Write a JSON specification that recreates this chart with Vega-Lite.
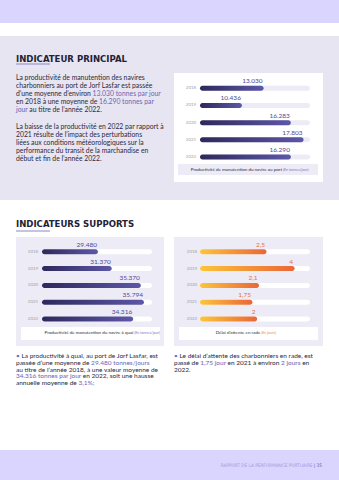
{
  "$schema": "https://vega.github.io/schema/vega-lite/v6.json",
  "background": "#ffffff",
  "padding": 0,
  "spacing": 0,
  "resolve": {"scale": {"color": "independent", "stroke": "independent"}},
  "config": {
    "view": {"stroke": null},
    "locale": {"number": {"decimal": ",", "thousands": ".", "grouping": [3], "currency": ["", " €"]}},
    "text": {"font": "Lato"}
  },
  "vconcat": [
    {"width": 339, "height": 23, "view": {"fill": "#d9d5fe", "stroke": null}, "data": {"values": [{}]}, "mark": {"type": "text", "text": ""}},
    {"width": 339, "height": 13, "data": {"values": [{}]}, "mark": {"type": "text", "text": ""}},
    {
      "hconcat": [
        {
          "width": 174, "height": 164,
          "view": {"fill": "#e7e5f2", "stroke": null},
          "resolve": {"scale": {"x": "independent", "y": "independent", "color": "independent", "stroke": "independent"}},
          "layer": [
            {
              "data": {"values": [{"t": "INDICATEUR PRINCIPAL"}]},
              "mark": {"type": "text", "align": "left", "baseline": "alphabetic", "font": "'Liberation Sans Narrow', 'DejaVu Sans Condensed', sans-serif", "fontWeight": "bold", "fontSize": 9.5, "color": "#232136"},
              "encoding": {
                "x": {"datum": 0, "type": "quantitative", "scale": {"domain": [0, 1], "range": [16, 50], "nice": false, "zero": false}, "axis": null},
                "y": {"datum": 0, "type": "quantitative", "scale": {"domain": [0, 1], "range": [26, 28], "nice": false, "zero": false}, "axis": null},
                "text": {"field": "t"}
              }
            },
            {
              "data": {"values": [{}]},
              "mark": {"type": "rule", "color": "#8b85c8", "strokeWidth": 1},
              "encoding": {
                "x": {"datum": 0, "type": "quantitative", "scale": {"domain": [0, 1], "range": [16, 50], "nice": false, "zero": false}, "axis": null},
                "x2": {"datum": 1},
                "y": {"datum": 1, "type": "quantitative", "scale": {"domain": [0, 1], "range": [26, 28], "nice": false, "zero": false}, "axis": null}
              }
            },
            {
              "data": {"values": [
                {"n": 1, "kind": "plain", "s": "La productivité de manutention des navires"},
                {"n": 2, "kind": "plain", "s": "charbonniers au port de Jorf Lasfar est passée"},
                {"n": 3, "kind": "key", "s": "d’une moyenne d’environ 13.030 tonnes par jour"},
                {"n": 3, "kind": "erase", "s": "d’une moyenne d’environ"},
                {"n": 3, "kind": "plain", "s": "d’une moyenne d’environ"},
                {"n": 4, "kind": "key", "s": "en 2018 à une moyenne de 16.290 tonnes par"},
                {"n": 4, "kind": "erase", "s": "en 2018 à une moyenne de"},
                {"n": 4, "kind": "plain", "s": "en 2018 à une moyenne de"},
                {"n": 5, "kind": "plain", "s": "jour au titre de l’année 2022."},
                {"n": 5, "kind": "erase", "s": "jour"},
                {"n": 5, "kind": "key", "s": "jour"},
                {"n": 7, "kind": "plain", "s": "La baisse de la productivité en 2022 par rapport à"},
                {"n": 8, "kind": "plain", "s": "2021 résulte de l’impact des perturbations"},
                {"n": 9, "kind": "plain", "s": "liées aux conditions météorologiques sur la"},
                {"n": 10, "kind": "plain", "s": "performance du transit de la marchandise en"},
                {"n": 11, "kind": "plain", "s": "début et fin de l’année 2022."}
              ]},
              "mark": {"type": "text", "align": "left", "baseline": "middle", "fontSize": 6.8, "strokeWidth": 1},
              "encoding": {
                "x": {"datum": 0, "type": "quantitative", "scale": {"domain": [0, 1], "range": [16, 165], "nice": false, "zero": false}, "axis": null},
                "y": {"field": "n", "type": "quantitative", "scale": {"domain": [1, 11], "range": [42, 123], "nice": false, "zero": false}, "axis": null},
                "text": {"field": "s"},
                "color": {"field": "kind", "type": "nominal", "scale": {"domain": ["plain", "key", "erase"], "range": ["#2b2a3c", "#6c66b6", "#e7e5f2"]}, "legend": null},
                "stroke": {"field": "kind", "type": "nominal", "scale": {"domain": ["plain", "key", "erase"], "range": ["transparent", "transparent", "#e7e5f2"]}, "legend": null}
              }
            }
          ]
        },
        {
          "vconcat": [
            {"width": 149, "height": 37, "view": {"fill": "#e7e5f2", "stroke": null}, "data": {"values": [{}]}, "mark": {"type": "text", "text": ""}},
            {
              "width": 149, "height": 109,
              "view": {"fill": "#ffffff", "stroke": null},
              "data": {"values": [
                {"year": "2018", "v": 13030},
                {"year": "2019", "v": 10436},
                {"year": "2020", "v": 16283},
                {"year": "2021", "v": 17803},
                {"year": "2022", "v": 16290}
              ]},
              "layer": [
                {
                  "mark": {"type": "bar", "height": 5, "cornerRadius": 2.5, "color": "#ecebf6"},
                  "encoding": {
                    "y": {"field": "year", "type": "ordinal", "scale": {"domain": ["2018", "2019", "2020", "2021", "2022", "cap"], "range": [6.7, 109.8], "paddingInner": 0, "paddingOuter": 0}, "axis": null},
                    "x": {"datum": 18570, "type": "quantitative", "scale": {"domain": [5430, 18570], "range": [26, 136], "nice": false, "zero": false}, "axis": null},
                    "x2": {"datum": 5430}
                  }
                },
                {
                  "mark": {"type": "bar", "height": 5, "cornerRadius": 2.5, "color": {"gradient": "linear", "x1": 0, "y1": 0, "x2": 1, "y2": 0, "stops": [{"offset": 0, "color": "#2d295b"}, {"offset": 1, "color": "#5d57a8"}]}},
                  "encoding": {
                    "y": {"field": "year", "type": "ordinal", "scale": {"domain": ["2018", "2019", "2020", "2021", "2022", "cap"], "range": [6.7, 109.8], "paddingInner": 0, "paddingOuter": 0}, "axis": null},
                    "x": {"field": "v", "type": "quantitative", "scale": {"domain": [5430, 18570], "range": [26, 136], "nice": false, "zero": false}, "axis": null},
                    "x2": {"datum": 5430}
                  }
                },
                {
                  "mark": {"type": "text", "align": "right", "baseline": "alphabetic", "dx": -1, "dy": -5, "fontSize": 6.5, "color": "#4f4a96"},
                  "encoding": {
                    "y": {"field": "year", "type": "ordinal", "scale": {"domain": ["2018", "2019", "2020", "2021", "2022", "cap"], "range": [6.7, 109.8], "paddingInner": 0, "paddingOuter": 0}, "axis": null},
                    "x": {"field": "v", "type": "quantitative", "scale": {"domain": [5430, 18570], "range": [26, 136], "nice": false, "zero": false}, "axis": null},
                    "text": {"field": "v", "type": "quantitative", "format": ",d"}
                  }
                },
                {
                  "mark": {"type": "text", "align": "center", "baseline": "middle", "dx": -9, "fontSize": 4.5, "color": "#a3a3ab"},
                  "encoding": {
                    "y": {"field": "year", "type": "ordinal", "scale": {"domain": ["2018", "2019", "2020", "2021", "2022", "cap"], "range": [6.7, 109.8], "paddingInner": 0, "paddingOuter": 0}, "axis": null},
                    "x": {"datum": 5430, "type": "quantitative", "scale": {"domain": [5430, 18570], "range": [26, 136], "nice": false, "zero": false}, "axis": null},
                    "text": {"field": "year"}
                  }
                },
                {
                  "data": {"values": [{"t": "Productivité de manutention du navire au port", "u": "(En tonnes/jour)"}]},
                  "layer": [
                    {
                      "mark": {"type": "bar", "height": 11, "yOffset": -4.7, "color": "#ecebf6"},
                      "encoding": {
                        "y": {"datum": "cap", "type": "ordinal", "scale": {"domain": ["2018", "2019", "2020", "2021", "2022", "cap"], "range": [6.7, 109.8], "paddingInner": 0, "paddingOuter": 0}, "axis": null},
                        "x": {"datum": 2802, "type": "quantitative", "scale": {"domain": [5430, 18570], "range": [26, 136], "nice": false, "zero": false}, "axis": null},
                        "x2": {"datum": 19525}
                      }
                    },
                    {
                      "mark": {"type": "text", "align": "right", "baseline": "middle", "yOffset": -4.7, "fontSize": 4.5, "color": "#2b2a3c"},
                      "encoding": {
                        "y": {"datum": "cap", "type": "ordinal", "scale": {"domain": ["2018", "2019", "2020", "2021", "2022", "cap"], "range": [6.7, 109.8], "paddingInner": 0, "paddingOuter": 0}, "axis": null},
                        "x": {"datum": 15225, "type": "quantitative", "scale": {"domain": [5430, 18570], "range": [26, 136], "nice": false, "zero": false}, "axis": null},
                        "text": {"field": "t"}
                      }
                    },
                    {
                      "mark": {"type": "text", "align": "left", "baseline": "middle", "dx": 1, "yOffset": -4.7, "fontSize": 3.6, "color": "#7a74c0"},
                      "encoding": {
                        "y": {"datum": "cap", "type": "ordinal", "scale": {"domain": ["2018", "2019", "2020", "2021", "2022", "cap"], "range": [6.7, 109.8], "paddingInner": 0, "paddingOuter": 0}, "axis": null},
                        "x": {"datum": 15225, "type": "quantitative", "scale": {"domain": [5430, 18570], "range": [26, 136], "nice": false, "zero": false}, "axis": null},
                        "text": {"field": "u"}
                      }
                    }
                  ]
                }
              ]
            },
            {"width": 149, "height": 18, "view": {"fill": "#e7e5f2", "stroke": null}, "data": {"values": [{}]}, "mark": {"type": "text", "text": ""}}
          ],
          "spacing": 0
        },
        {"width": 16, "height": 164, "view": {"fill": "#e7e5f2", "stroke": null}, "data": {"values": [{}]}, "mark": {"type": "text", "text": ""}}
      ],
      "spacing": 0
    },
    {
      "width": 339, "height": 37,
      "layer": [
        {
          "data": {"values": [{"t": "INDICATEURS SUPPORTS"}]},
          "mark": {"type": "text", "align": "left", "baseline": "alphabetic", "font": "'Liberation Sans Narrow', 'DejaVu Sans Condensed', sans-serif", "fontWeight": "bold", "fontSize": 9.5, "color": "#232136"},
          "encoding": {
            "x": {"datum": 0, "type": "quantitative", "scale": {"domain": [0, 1], "range": [16, 50], "nice": false, "zero": false}, "axis": null},
            "y": {"datum": 0, "type": "quantitative", "scale": {"domain": [0, 1], "range": [27, 31], "nice": false, "zero": false}, "axis": null},
            "text": {"field": "t"}
          }
        },
        {
          "data": {"values": [{}]},
          "mark": {"type": "rule", "color": "#8b85c8", "strokeWidth": 1},
          "encoding": {
            "x": {"datum": 0, "type": "quantitative", "scale": {"domain": [0, 1], "range": [16, 50], "nice": false, "zero": false}, "axis": null},
            "x2": {"datum": 1},
            "y": {"datum": 1, "type": "quantitative", "scale": {"domain": [0, 1], "range": [27, 31], "nice": false, "zero": false}, "axis": null}
          }
        }
      ]
    },
    {
      "hconcat": [
        {"width": 16, "height": 109, "data": {"values": [{}]}, "mark": {"type": "text", "text": ""}},
        {
          "width": 148, "height": 109,
          "view": {"fill": "#ecebf6", "stroke": null},
          "data": {"values": [
            {"year": "2018", "v": 29480},
            {"year": "2019", "v": 31370},
            {"year": "2020", "v": 35370},
            {"year": "2021", "v": 35794},
            {"year": "2022", "v": 34316}
          ]},
          "layer": [
            {
              "mark": {"type": "bar", "height": 5, "cornerRadius": 2.5, "color": "#ffffff"},
              "encoding": {
                "y": {"field": "year", "type": "ordinal", "scale": {"domain": ["2018", "2019", "2020", "2021", "2022", "cap"], "range": [6.3, 107.3], "paddingInner": 0, "paddingOuter": 0}, "axis": null},
                "x": {"datum": 36900, "type": "quantitative", "scale": {"domain": [21800, 36900], "range": [26, 136], "nice": false, "zero": false}, "axis": null},
                "x2": {"datum": 21800}
              }
            },
            {
              "mark": {"type": "bar", "height": 5, "cornerRadius": 2.5, "color": {"gradient": "linear", "x1": 0, "y1": 0, "x2": 1, "y2": 0, "stops": [{"offset": 0, "color": "#2d295b"}, {"offset": 1, "color": "#5d57a8"}]}},
              "encoding": {
                "y": {"field": "year", "type": "ordinal", "scale": {"domain": ["2018", "2019", "2020", "2021", "2022", "cap"], "range": [6.3, 107.3], "paddingInner": 0, "paddingOuter": 0}, "axis": null},
                "x": {"field": "v", "type": "quantitative", "scale": {"domain": [21800, 36900], "range": [26, 136], "nice": false, "zero": false}, "axis": null},
                "x2": {"datum": 21800}
              }
            },
            {
              "mark": {"type": "text", "align": "right", "baseline": "alphabetic", "dx": -1, "dy": -5, "fontSize": 6.5, "color": "#4f4a96"},
              "encoding": {
                "y": {"field": "year", "type": "ordinal", "scale": {"domain": ["2018", "2019", "2020", "2021", "2022", "cap"], "range": [6.3, 107.3], "paddingInner": 0, "paddingOuter": 0}, "axis": null},
                "x": {"field": "v", "type": "quantitative", "scale": {"domain": [21800, 36900], "range": [26, 136], "nice": false, "zero": false}, "axis": null},
                "text": {"field": "v", "type": "quantitative", "format": ",d"}
              }
            },
            {
              "mark": {"type": "text", "align": "center", "baseline": "middle", "dx": -9, "fontSize": 4.5, "color": "#a3a3ab"},
              "encoding": {
                "y": {"field": "year", "type": "ordinal", "scale": {"domain": ["2018", "2019", "2020", "2021", "2022", "cap"], "range": [6.3, 107.3], "paddingInner": 0, "paddingOuter": 0}, "axis": null},
                "x": {"datum": 21800, "type": "quantitative", "scale": {"domain": [21800, 36900], "range": [26, 136], "nice": false, "zero": false}, "axis": null},
                "text": {"field": "year"}
              }
            },
            {
              "data": {"values": [{"t": "Productivité de manutention du navire à quai", "u": "(En tonnes/jour)"}]},
              "layer": [
                {
                  "mark": {"type": "bar", "height": 13, "yOffset": -2.4, "color": "#ffffff"},
                  "encoding": {
                    "y": {"datum": "cap", "type": "ordinal", "scale": {"domain": ["2018", "2019", "2020", "2021", "2022", "cap"], "range": [6.3, 107.3], "paddingInner": 0, "paddingOuter": 0}, "axis": null},
                    "x": {"datum": 18917, "type": "quantitative", "scale": {"domain": [21800, 36900], "range": [26, 136], "nice": false, "zero": false}, "axis": null},
                    "x2": {"datum": 38001}
                  }
                },
                {
                  "mark": {"type": "text", "align": "right", "baseline": "middle", "yOffset": -2.4, "fontSize": 4.5, "color": "#2b2a3c"},
                  "encoding": {
                    "y": {"datum": "cap", "type": "ordinal", "scale": {"domain": ["2018", "2019", "2020", "2021", "2022", "cap"], "range": [6.3, 107.3], "paddingInner": 0, "paddingOuter": 0}, "axis": null},
                    "x": {"datum": 34335, "type": "quantitative", "scale": {"domain": [21800, 36900], "range": [26, 136], "nice": false, "zero": false}, "axis": null},
                    "text": {"field": "t"}
                  }
                },
                {
                  "mark": {"type": "text", "align": "left", "baseline": "middle", "dx": 1, "yOffset": -2.4, "fontSize": 3.6, "color": "#7a74c0"},
                  "encoding": {
                    "y": {"datum": "cap", "type": "ordinal", "scale": {"domain": ["2018", "2019", "2020", "2021", "2022", "cap"], "range": [6.3, 107.3], "paddingInner": 0, "paddingOuter": 0}, "axis": null},
                    "x": {"datum": 34335, "type": "quantitative", "scale": {"domain": [21800, 36900], "range": [26, 136], "nice": false, "zero": false}, "axis": null},
                    "text": {"field": "u"}
                  }
                }
              ]
            }
          ]
        },
        {"width": 10, "height": 109, "data": {"values": [{}]}, "mark": {"type": "text", "text": ""}},
        {
          "width": 149, "height": 109,
          "view": {"fill": "#ecebf6", "stroke": null},
          "data": {"values": [
            {"year": "2018", "v": 2.5},
            {"year": "2019", "v": 4},
            {"year": "2020", "v": 2.1},
            {"year": "2021", "v": 1.75},
            {"year": "2022", "v": 2}
          ]},
          "layer": [
            {
              "mark": {"type": "bar", "height": 5, "cornerRadius": 2.5, "color": "#ffffff"},
              "encoding": {
                "y": {"field": "year", "type": "ordinal", "scale": {"domain": ["2018", "2019", "2020", "2021", "2022", "cap"], "range": [6.3, 107.3], "paddingInner": 0, "paddingOuter": 0}, "axis": null},
                "x": {"datum": 4.82, "type": "quantitative", "scale": {"domain": [-1.05, 4.82], "range": [26, 136], "nice": false, "zero": false}, "axis": null},
                "x2": {"datum": -1.05}
              }
            },
            {
              "mark": {"type": "bar", "height": 5, "cornerRadius": 2.5, "color": {"gradient": "linear", "x1": 0, "y1": 0, "x2": 1, "y2": 0, "stops": [{"offset": 0, "color": "#fcc53b"}, {"offset": 1, "color": "#ea6637"}]}},
              "encoding": {
                "y": {"field": "year", "type": "ordinal", "scale": {"domain": ["2018", "2019", "2020", "2021", "2022", "cap"], "range": [6.3, 107.3], "paddingInner": 0, "paddingOuter": 0}, "axis": null},
                "x": {"field": "v", "type": "quantitative", "scale": {"domain": [-1.05, 4.82], "range": [26, 136], "nice": false, "zero": false}, "axis": null},
                "x2": {"datum": -1.05}
              }
            },
            {
              "mark": {"type": "text", "align": "right", "baseline": "alphabetic", "dx": -1.5, "dy": -5, "fontSize": 6.5, "color": "#e4703f"},
              "encoding": {
                "y": {"field": "year", "type": "ordinal", "scale": {"domain": ["2018", "2019", "2020", "2021", "2022", "cap"], "range": [6.3, 107.3], "paddingInner": 0, "paddingOuter": 0}, "axis": null},
                "x": {"field": "v", "type": "quantitative", "scale": {"domain": [-1.05, 4.82], "range": [26, 136], "nice": false, "zero": false}, "axis": null},
                "text": {"field": "v", "type": "quantitative", "format": ".2~f"}
              }
            },
            {
              "mark": {"type": "text", "align": "center", "baseline": "middle", "dx": -8, "fontSize": 4.5, "color": "#a3a3ab"},
              "encoding": {
                "y": {"field": "year", "type": "ordinal", "scale": {"domain": ["2018", "2019", "2020", "2021", "2022", "cap"], "range": [6.3, 107.3], "paddingInner": 0, "paddingOuter": 0}, "axis": null},
                "x": {"datum": -1.05, "type": "quantitative", "scale": {"domain": [-1.05, 4.82], "range": [26, 136], "nice": false, "zero": false}, "axis": null},
                "text": {"field": "year"}
              }
            },
            {
              "data": {"values": [{"t": "Délai d’attente en rade", "u": "(En jours)"}]},
              "layer": [
                {
                  "mark": {"type": "bar", "height": 13, "yOffset": -2.4, "color": "#ffffff"},
                  "encoding": {
                    "y": {"datum": "cap", "type": "ordinal", "scale": {"domain": ["2018", "2019", "2020", "2021", "2022", "cap"], "range": [6.3, 107.3], "paddingInner": 0, "paddingOuter": 0}, "axis": null},
                    "x": {"datum": -2.17, "type": "quantitative", "scale": {"domain": [-1.05, 4.82], "range": [26, 136], "nice": false, "zero": false}, "axis": null},
                    "x2": {"datum": 5.25}
                  }
                },
                {
                  "mark": {"type": "text", "align": "right", "baseline": "middle", "yOffset": -2.4, "fontSize": 4.5, "color": "#2b2a3c"},
                  "encoding": {
                    "y": {"datum": "cap", "type": "ordinal", "scale": {"domain": ["2018", "2019", "2020", "2021", "2022", "cap"], "range": [6.3, 107.3], "paddingInner": 0, "paddingOuter": 0}, "axis": null},
                    "x": {"datum": 2.17, "type": "quantitative", "scale": {"domain": [-1.05, 4.82], "range": [26, 136], "nice": false, "zero": false}, "axis": null},
                    "text": {"field": "t"}
                  }
                },
                {
                  "mark": {"type": "text", "align": "left", "baseline": "middle", "dx": 1, "yOffset": -2.4, "fontSize": 3.6, "color": "#e98a52"},
                  "encoding": {
                    "y": {"datum": "cap", "type": "ordinal", "scale": {"domain": ["2018", "2019", "2020", "2021", "2022", "cap"], "range": [6.3, 107.3], "paddingInner": 0, "paddingOuter": 0}, "axis": null},
                    "x": {"datum": 2.17, "type": "quantitative", "scale": {"domain": [-1.05, 4.82], "range": [26, 136], "nice": false, "zero": false}, "axis": null},
                    "text": {"field": "u"}
                  }
                }
              ]
            }
          ]
        }
      ],
      "spacing": 0
    },
    {
      "width": 339, "height": 104,
      "data": {"values": [
        {"col": 0, "n": 1, "kind": "plain", "s": "• La productivité à quai, au port de Jorf Lasfar, est"},
        {"col": 0, "n": 1, "kind": "erase", "s": "•"},
        {"col": 0, "n": 1, "kind": "key", "s": "•"},
        {"col": 0, "n": 2, "kind": "key", "s": "passée d’une moyenne de 29.480 tonnes/jours"},
        {"col": 0, "n": 2, "kind": "erase", "s": "passée d’une moyenne de"},
        {"col": 0, "n": 2, "kind": "plain", "s": "passée d’une moyenne de"},
        {"col": 0, "n": 3, "kind": "plain", "s": "au titre de l’année 2018, à une valeur moyenne de"},
        {"col": 0, "n": 4, "kind": "plain", "s": "34.316 tonnes par jour en 2022, soit une hausse"},
        {"col": 0, "n": 4, "kind": "erase", "s": "34.316 tonnes par jour"},
        {"col": 0, "n": 4, "kind": "key", "s": "34.316 tonnes par jour"},
        {"col": 0, "n": 5, "kind": "key", "s": "annuelle moyenne de 3,1%;"},
        {"col": 0, "n": 5, "kind": "erase", "s": "annuelle moyenne de"},
        {"col": 0, "n": 5, "kind": "plain", "s": "annuelle moyenne de"},
        {"col": 1, "n": 1, "kind": "plain", "s": "• Le délai d’attente des charbonniers en rade, est"},
        {"col": 1, "n": 1, "kind": "erase", "s": "•"},
        {"col": 1, "n": 1, "kind": "key", "s": "•"},
        {"col": 1, "n": 2, "kind": "plain", "s": "passé de 1,75 jour en 2021 à environ 2 jours en"},
        {"col": 1, "n": 2, "kind": "erase", "s": "passé de 1,75 jour en 2021 à environ 2 jours"},
        {"col": 1, "n": 2, "kind": "key", "s": "passé de 1,75 jour en 2021 à environ 2 jours"},
        {"col": 1, "n": 2, "kind": "erase", "s": "passé de 1,75 jour en 2021 à environ"},
        {"col": 1, "n": 2, "kind": "plain", "s": "passé de 1,75 jour en 2021 à environ"},
        {"col": 1, "n": 2, "kind": "erase", "s": "passé de 1,75 jour"},
        {"col": 1, "n": 2, "kind": "key", "s": "passé de 1,75 jour"},
        {"col": 1, "n": 2, "kind": "erase", "s": "passé de"},
        {"col": 1, "n": 2, "kind": "plain", "s": "passé de"},
        {"col": 1, "n": 3, "kind": "plain", "s": "2022."}
      ]},
      "mark": {"type": "text", "align": "left", "baseline": "middle", "fontSize": 6.5, "strokeWidth": 1},
      "encoding": {
        "x": {"field": "col", "type": "quantitative", "scale": {"domain": [0, 1], "range": [16, 174], "nice": false, "zero": false}, "axis": null},
        "y": {"field": "n", "type": "quantitative", "scale": {"domain": [1, 5], "range": [9.7, 37.3], "nice": false, "zero": false}, "axis": null},
        "text": {"field": "s"},
        "color": {"field": "kind", "type": "nominal", "scale": {"domain": ["plain", "key", "erase"], "range": ["#2b2a3c", "#6c66b6", "#ffffff"]}, "legend": null},
        "stroke": {"field": "kind", "type": "nominal", "scale": {"domain": ["plain", "key", "erase"], "range": ["transparent", "transparent", "#ffffff"]}, "legend": null}
      }
    },
    {
      "width": 339, "height": 30,
      "view": {"fill": "#d9d5fe", "stroke": null},
      "data": {"values": [{"t": "RAPPORT DE LA PERFORMANCE PORTUAIRE", "p": "| 35"}]},
      "layer": [
        {
          "mark": {"type": "text", "align": "right", "baseline": "middle", "dy": 0.7, "dx": -9.5, "font": "'Liberation Sans Narrow', 'DejaVu Sans Condensed', sans-serif", "fontSize": 4.7, "color": "#a5a0dc"},
          "encoding": {
            "x": {"datum": 1, "type": "quantitative", "scale": {"domain": [0, 1], "range": [0, 322], "nice": false, "zero": false}, "axis": null},
            "text": {"field": "t"}
          }
        },
        {
          "mark": {"type": "text", "align": "right", "baseline": "middle", "dy": 0.7, "font": "'Liberation Sans Narrow', 'DejaVu Sans Condensed', sans-serif", "fontSize": 4.7, "color": "#5f5aa8"},
          "encoding": {
            "x": {"datum": 1, "type": "quantitative", "scale": {"domain": [0, 1], "range": [0, 322], "nice": false, "zero": false}, "axis": null},
            "text": {"field": "p"}
          }
        }
      ]
    }
  ]
}
